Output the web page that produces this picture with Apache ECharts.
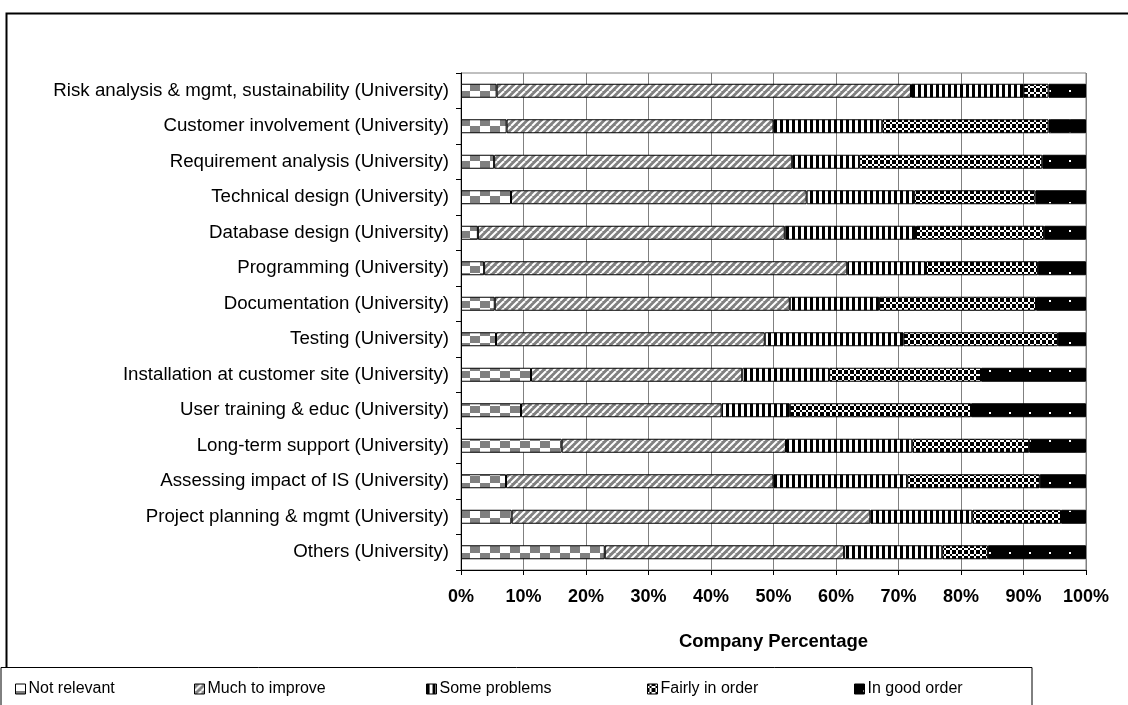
<!DOCTYPE html>
<html><head><meta charset="utf-8">
<script src="https://cdn.jsdelivr.net/npm/echarts@6/dist/echarts.min.js"></script>
<style>html,body{margin:0;padding:0;background:#fff}#c{width:1128px;height:705px}</style>
</head><body><div id="c"></div>
<script>
const categories = [
  "Risk analysis & mgmt, sustainability (University)",
  "Customer involvement (University)",
  "Requirement analysis (University)",
  "Technical design (University)",
  "Database design (University)",
  "Programming (University)",
  "Documentation (University)",
  "Testing (University)",
  "Installation at customer site (University)",
  "User training & educ (University)",
  "Long-term support (University)",
  "Assessing impact of IS (University)",
  "Project planning & mgmt (University)",
  "Others (University)"
];
const seriesNames = ["Not relevant", "Much to improve", "Some problems", "Fairly in order", "In good order"];
const notRelevant   = [5.7, 7.3, 5.3, 8.0, 2.7, 3.7, 5.4, 5.6, 11.2, 9.6, 16.1, 7.2, 8.1, 23.0];
const muchToImprove = [66.3, 42.7, 47.7, 47.3, 49.1, 58.1, 47.2, 43.0, 33.8, 32.1, 35.9, 42.8, 57.4, 38.3];
const someProblems  = [18.0, 17.4, 10.7, 17.2, 21.0, 12.6, 14.3, 22.2, 13.9, 10.9, 20.2, 21.4, 16.3, 15.7];
const fairlyInOrder = [4.0, 26.6, 29.3, 19.4, 20.5, 17.9, 25.1, 24.7, 24.3, 29.0, 18.7, 21.2, 14.2, 7.3];
const inGoodOrder   = [6.0, 6.0, 7.0, 8.1, 6.7, 7.7, 8.0, 4.5, 16.8, 18.4, 9.1, 7.4, 4.0, 15.7];
const xTicks = [0, 10, 20, 30, 40, 50, 60, 70, 80, 90, 100];

function mk(w, h, draw) {
  const c = document.createElement('canvas'); c.width = w; c.height = h;
  const g = c.getContext('2d'); draw(g, w, h); return c;
}
const patNR = mk(20, 14, (g) => {
  g.fillStyle = '#fff'; g.fillRect(0, 0, 20, 14);
  g.fillStyle = '#808080'; g.fillRect(10, 0, 10, 7); g.fillRect(0, 7, 10, 7);
});
const patMTI = mk(7, 7, (g) => {
  g.fillStyle = '#808080'; g.fillRect(0, 0, 7, 7);
  g.strokeStyle = '#fff'; g.lineWidth = 2;
  for (let k = -7; k <= 14; k += 7) { g.beginPath(); g.moveTo(k, 7); g.lineTo(k + 7, 0); g.stroke(); }
});
const patSP = mk(6, 4, (g) => {
  g.fillStyle = '#fff'; g.fillRect(0, 0, 6, 4);
  g.fillStyle = '#000'; g.fillRect(0, 0, 3, 4);
});
const patFIO = mk(6, 6, (g) => {
  g.fillStyle = '#fff'; g.fillRect(0, 0, 6, 6);
  g.fillStyle = '#000';
  for (let y = 0; y < 6; y += 2) for (let x = 0; x < 6; x += 2) {
    if (((x + y) / 2) % 2 === 0) g.fillRect(x, y, 2, 2);
  }
  g.fillRect(2, 2, 2, 2);
});
const patIGO = mk(20, 14, (g) => {
  g.fillStyle = '#000'; g.fillRect(0, 0, 20, 14);
  g.fillStyle = '#fff'; g.fillRect(9, 6, 2, 2);
});
const patterns = [patNR, patMTI, patSP, patFIO, patIGO];
const values = [notRelevant, muchToImprove, someProblems, fairlyInOrder, inGoodOrder];
const legendLeft = [10, 189, 421, 642, 849];

const chart = echarts.init(document.getElementById('c'), null, {renderer: 'canvas'});
const series = seriesNames.map((n, i) => ({
  name: n, type: 'bar', stack: 'total', barWidth: 14,
  data: values[i],
  itemStyle: { color: { image: patterns[i], repeat: 'repeat' }, borderColor: '#000', borderWidth: 1 },
  emphasis: { disabled: true },
  animation: false
}));
chart.setOption({
  animation: false,
  backgroundColor: '#fff',
  textStyle: { fontFamily: 'Liberation Sans, Arial, sans-serif' },
  grid: { left: 461, right: 42, top: 73, bottom: 135, show: true, borderColor: '#808080', borderWidth: 1, containLabel: false },
  xAxis: {
    type: 'value', min: 0, max: 100, interval: 10,
    name: 'Company Percentage', nameLocation: 'middle', nameGap: 62,
    nameTextStyle: { fontSize: 18.5, fontWeight: 'bold', color: '#000' },
    axisLine: { show: true, lineStyle: { color: '#000', width: 1 } },
    axisTick: { show: true, length: 5, lineStyle: { color: '#000' } },
    axisLabel: { formatter: (v) => xTicks.includes(v) ? v + '%' : '', fontSize: 18, fontWeight: 'bold', color: '#000', margin: 18 },
    splitLine: { show: true, lineStyle: { color: '#808080', width: 1 } }
  },
  yAxis: {
    type: 'category', data: categories, inverse: true,
    axisLine: { show: true, lineStyle: { color: '#000', width: 1 } },
    axisTick: { show: true, length: 5, inside: false, lineStyle: { color: '#000' } },
    axisLabel: { fontSize: 18.7, color: '#000', margin: 12 },
    splitLine: { show: false }
  },
  legend: seriesNames.map((n, i) => ({
    data: [n], left: legendLeft[i], top: 676, orient: 'horizontal',
    itemWidth: 10, itemHeight: 10, itemGap: 4,
    textStyle: { fontSize: 16, color: '#000', padding: [0, 0, 0, -2] },
    selectedMode: false, icon: 'rect',
    itemStyle: { borderColor: '#000', borderWidth: 1 }
  })),
  graphic: [
    { type: 'rect', z: -10, silent: true, shape: { x: 6.5, y: 13.5, width: 1140, height: 720 }, style: { fill: null, stroke: '#000', lineWidth: 2 } },
    { type: 'rect', z: -5, silent: true, shape: { x: 1, y: 667.5, width: 1031, height: 60 }, style: { fill: '#fff', stroke: '#000', lineWidth: 1 } }
  ],
  series: series
});
</script></body></html>
